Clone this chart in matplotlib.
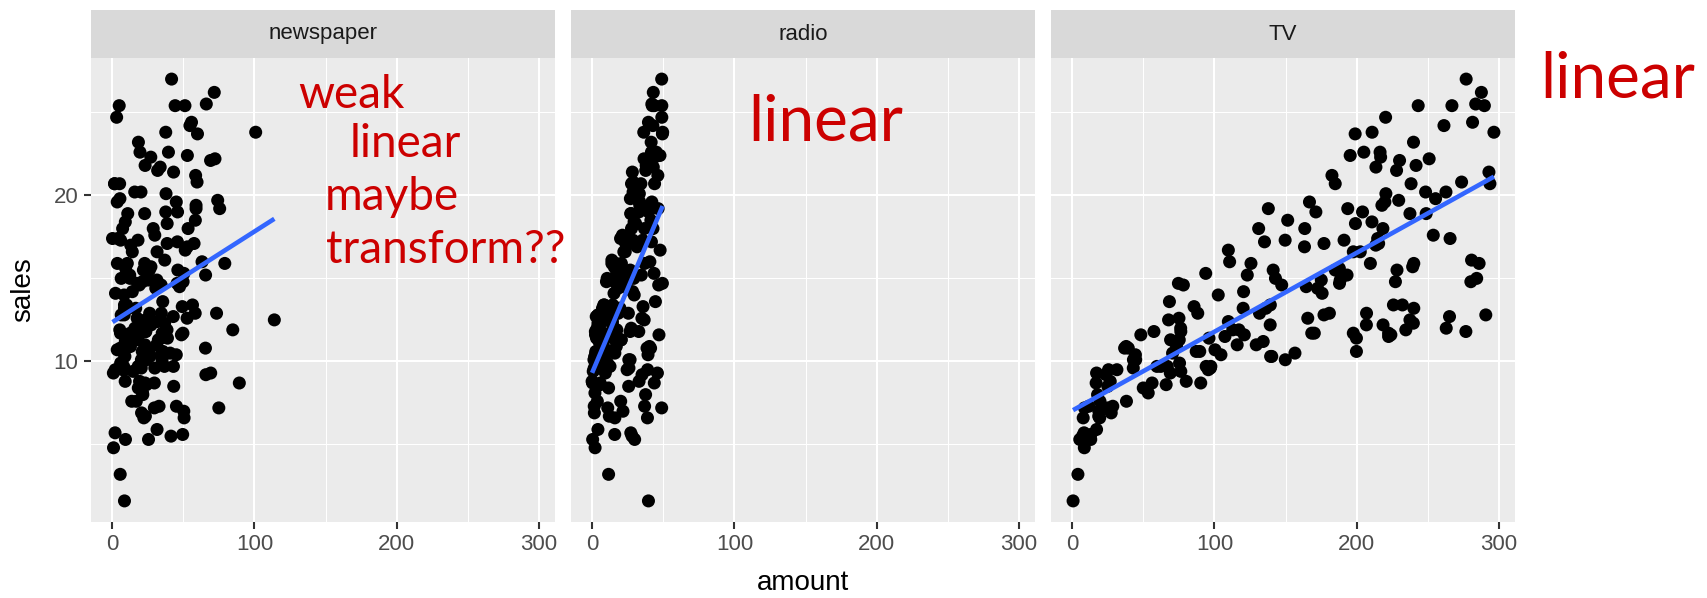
import numpy as np
import matplotlib
matplotlib.use("Agg")
import matplotlib.pyplot as plt

# Advertising data: TV, radio, newspaper budgets and sales
tv = [230.1, 44.5, 17.2, 151.5, 180.8, 8.7, 57.5, 120.2, 8.6, 199.8,
      66.1, 214.7, 23.8, 97.5, 204.1, 195.4, 67.8, 281.4, 69.2, 147.3,
      218.4, 237.4, 13.2, 228.3, 62.3, 262.9, 142.9, 240.1, 248.8, 70.6,
      292.9, 112.9, 97.2, 265.6, 95.7, 290.7, 266.9, 74.7, 43.1, 228.0,
      202.5, 177.0, 293.6, 206.9, 25.1, 175.1, 89.7, 239.9, 227.2, 66.9,
      199.8, 100.4, 216.4, 182.6, 262.7, 198.9, 7.3, 136.2, 210.8, 210.7,
      53.5, 261.3, 239.3, 102.7, 131.1, 69.0, 31.5, 139.3, 237.4, 216.8,
      199.1, 109.8, 26.8, 129.4, 213.4, 16.9, 27.5, 120.5, 5.4, 116.0,
      76.4, 239.8, 75.3, 68.4, 213.5, 193.2, 76.3, 110.7, 88.3, 109.8,
      134.3, 28.6, 217.7, 250.9, 107.4, 163.3, 197.6, 184.9, 289.7, 135.2,
      222.4, 296.4, 280.2, 187.9, 238.2, 137.9, 25.0, 90.4, 13.1, 255.4,
      225.8, 241.7, 175.7, 209.6, 78.2, 75.1, 139.2, 76.4, 125.7, 19.4,
      141.3, 18.8, 224.0, 123.1, 229.5, 87.2, 7.8, 80.2, 220.3, 59.6,
      0.7, 265.2, 8.4, 219.8, 36.9, 48.3, 25.6, 273.7, 43.0, 184.9,
      73.4, 193.7, 220.5, 104.6, 96.2, 140.3, 240.1, 243.2, 38.0, 44.7,
      280.7, 121.0, 197.6, 171.3, 187.8, 4.1, 93.9, 149.8, 11.7, 131.7,
      172.5, 85.7, 188.4, 163.5, 117.2, 234.5, 17.9, 206.8, 215.4, 284.3,
      50.0, 164.5, 19.6, 168.4, 222.4, 276.9, 248.4, 170.2, 276.7, 165.6,
      156.6, 218.5, 56.2, 287.6, 253.8, 205.0, 139.5, 191.1, 286.0, 18.7,
      39.5, 75.5, 17.2, 166.8, 149.7, 38.2, 94.2, 177.0, 283.6, 232.1]

radio = [37.8, 39.3, 45.9, 41.3, 10.8, 48.9, 32.8, 19.6, 2.1, 2.6,
         5.8, 24.0, 35.1, 7.6, 32.9, 47.7, 36.6, 39.6, 20.5, 23.9,
         27.7, 5.1, 15.9, 16.9, 12.6, 3.5, 29.3, 16.7, 27.1, 16.0,
         28.3, 17.4, 1.5, 20.0, 1.4, 4.1, 43.8, 49.4, 26.7, 37.7,
         22.3, 33.4, 27.7, 8.4, 25.7, 22.5, 9.9, 41.5, 15.8, 11.7,
         3.1, 9.6, 41.7, 46.2, 28.8, 49.4, 28.1, 19.2, 49.6, 29.5,
         2.0, 42.7, 15.5, 29.6, 42.8, 9.3, 24.6, 14.5, 27.5, 43.9,
         30.6, 14.3, 33.0, 5.7, 24.6, 43.7, 1.6, 28.5, 29.9, 7.7,
         26.7, 4.1, 20.3, 44.5, 43.0, 18.4, 27.5, 40.6, 25.5, 47.8,
         4.9, 1.5, 33.5, 36.5, 14.0, 31.6, 3.5, 21.0, 42.3, 41.7,
         4.3, 36.3, 10.1, 17.2, 34.3, 46.4, 11.0, 0.3, 0.4, 26.9,
         8.2, 38.0, 15.4, 20.6, 46.8, 35.0, 14.3, 0.8, 36.9, 16.0,
         26.8, 21.7, 2.4, 34.6, 32.3, 11.8, 38.9, 0.0, 49.0, 12.0,
         39.6, 2.9, 27.2, 33.5, 38.6, 47.0, 39.0, 28.9, 25.9, 43.9,
         17.0, 35.4, 33.2, 5.7, 14.8, 1.9, 7.3, 49.0, 40.3, 25.8,
         13.9, 8.4, 23.3, 39.7, 21.1, 11.6, 43.5, 1.3, 36.9, 18.4,
         18.1, 35.8, 18.1, 36.8, 14.7, 3.4, 37.6, 5.2, 23.6, 10.6,
         11.6, 20.9, 20.1, 7.1, 3.4, 48.9, 30.2, 7.8, 2.3, 10.0,
         2.6, 5.4, 5.7, 43.0, 21.3, 45.1, 2.1, 28.7, 13.9, 12.1,
         41.1, 10.8, 4.1, 42.0, 35.6, 3.7, 4.9, 9.3, 42.0, 8.6]

newspaper = [69.2, 45.1, 69.3, 58.5, 58.4, 75.0, 23.5, 11.6, 1.0, 21.2,
             24.2, 4.0, 65.9, 7.2, 46.0, 52.9, 114.0, 55.8, 18.3, 19.1,
             53.4, 23.5, 49.6, 26.2, 18.3, 19.5, 12.6, 22.9, 22.9, 40.8,
             43.2, 38.6, 30.0, 0.3, 7.4, 8.5, 5.0, 45.7, 35.1, 32.0,
             31.6, 38.7, 1.8, 26.4, 43.3, 31.5, 35.7, 18.5, 49.9, 36.8,
             34.6, 3.6, 39.6, 58.7, 15.9, 60.0, 41.4, 16.6, 37.7, 9.3,
             21.4, 54.7, 27.3, 8.4, 28.9, 0.9, 2.2, 10.2, 11.0, 27.2,
             38.7, 31.7, 19.3, 31.3, 13.1, 89.4, 20.7, 14.2, 9.4, 23.1,
             22.3, 36.9, 32.5, 35.6, 33.8, 65.7, 16.0, 63.2, 73.4, 51.4,
             9.3, 33.0, 59.0, 72.3, 10.9, 52.9, 5.9, 22.0, 51.2, 45.9,
             49.8, 100.9, 21.4, 17.9, 5.3, 59.0, 29.7, 23.2, 25.6, 5.5,
             56.5, 23.2, 2.4, 10.7, 34.5, 52.7, 25.6, 14.8, 79.2, 22.3,
             46.2, 50.4, 15.6, 12.4, 74.2, 25.9, 50.6, 9.2, 3.2, 43.1,
             8.7, 43.0, 2.1, 45.1, 65.6, 8.5, 9.3, 59.7, 20.5, 1.7,
             12.9, 75.6, 37.9, 34.4, 38.9, 9.0, 8.7, 44.3, 11.9, 20.6,
             37.0, 48.7, 14.2, 37.7, 9.5, 5.7, 50.5, 24.3, 45.2, 34.6,
             30.7, 49.3, 25.6, 7.4, 5.4, 84.8, 21.6, 19.4, 57.6, 6.4,
             18.4, 47.4, 17.0, 12.8, 13.1, 41.8, 20.3, 35.2, 23.7, 17.6,
             8.3, 27.4, 29.7, 71.8, 30.0, 19.6, 26.6, 18.2, 3.7, 23.4,
             5.8, 6.0, 31.6, 3.6, 6.0, 13.8, 8.1, 6.4, 66.2, 8.7]

sales = [22.1, 10.4, 9.3, 18.5, 12.9, 7.2, 11.8, 13.2, 4.8, 10.6,
         8.6, 17.4, 9.2, 9.7, 19.0, 22.4, 12.5, 24.4, 11.3, 14.6,
         18.0, 12.5, 5.6, 15.5, 9.7, 12.0, 15.0, 15.9, 18.9, 10.5,
         21.4, 11.9, 9.6, 17.4, 9.5, 12.8, 25.4, 14.7, 10.1, 21.5,
         16.6, 17.1, 20.7, 12.9, 8.5, 14.9, 10.6, 23.2, 14.8, 9.7,
         11.4, 10.7, 22.6, 21.2, 20.2, 23.7, 5.5, 13.2, 23.8, 18.4,
         8.1, 24.2, 15.7, 14.0, 18.0, 9.3, 9.5, 13.4, 18.9, 22.3,
         18.3, 12.4, 8.8, 11.0, 17.0, 8.7, 6.9, 14.2, 5.3, 11.0,
         11.8, 12.3, 11.3, 13.6, 21.7, 15.2, 12.0, 16.0, 12.9, 16.7,
         11.2, 7.3, 19.4, 22.2, 11.5, 16.9, 11.7, 15.5, 25.4, 17.2,
         11.7, 23.8, 14.8, 14.7, 20.7, 19.2, 7.2, 8.7, 5.3, 19.8,
         13.4, 21.8, 14.1, 15.9, 14.6, 12.6, 12.2, 9.4, 15.9, 6.6,
         15.5, 7.0, 11.6, 15.2, 19.7, 10.6, 6.6, 8.8, 24.7, 9.7,
         1.6, 12.7, 5.7, 19.6, 10.8, 11.6, 9.5, 20.8, 9.6, 20.7,
         10.9, 19.2, 20.1, 10.4, 11.4, 10.3, 13.2, 25.4, 10.9, 10.1,
         16.1, 11.6, 16.6, 19.0, 15.6, 3.2, 15.3, 10.1, 7.3, 12.9,
         14.4, 13.3, 14.9, 18.0, 11.9, 11.9, 8.0, 12.2, 17.1, 15.0,
         8.4, 14.5, 7.6, 11.7, 11.5, 27.0, 20.2, 11.7, 11.8, 12.6,
         10.5, 12.2, 8.7, 26.2, 17.6, 22.6, 10.3, 17.3, 15.9, 6.7,
         10.8, 9.9, 5.9, 19.6, 17.3, 7.6, 9.7, 12.8, 25.5, 13.4]

facets = ["newspaper", "radio", "TV"]
amounts = {"newspaper": newspaper, "radio": radio, "TV": tv}

x_ticks = [0, 100, 200, 300]
x_minor = [50, 150, 250]
y_ticks = [10, 20]
y_minor = [5, 15, 25]

# handwritten notes: (text, left px, baseline px, fontsize)
notes = [
    ("weak", 298, 108, 33),
    ("linear", 350, 157, 33),
    ("maybe", 325, 210, 33),
    ("transform??", 326, 263, 33),
    ("linear", 748, 140, 46),
    ("linear", 1540, 98, 46),
]

W, H = 1707, 598
plt.rcParams["font.family"] = ["Liberation Sans", "DejaVu Sans"]
fig = plt.figure(figsize=(W / 100, H / 100), dpi=100)

# shared scales with ggplot-style 5% expansion
all_x = np.concatenate([np.array(v) for v in amounts.values()])
y = np.array(sales)
xr = all_x.max() - all_x.min()
yr = y.max() - y.min()
xlim = (all_x.min() - 0.05 * xr, all_x.max() + 0.05 * xr)
ylim = (y.min() - 0.05 * yr, y.max() + 0.05 * yr)

lefts = [91, 571, 1051]
pw = 464
strip_top, panel_top, panel_bot = 10, 58, 522

for i, name in enumerate(facets):
    L = lefts[i]
    ax = fig.add_axes([L / W, 1 - panel_bot / H, pw / W, (panel_bot - panel_top) / H])
    ax.set_facecolor("#EBEBEB")
    for s in ax.spines.values():
        s.set_visible(False)
    ax.set_xlim(xlim)
    ax.set_ylim(ylim)
    ax.set_xticks(x_ticks)
    ax.set_xticks(x_minor, minor=True)
    ax.set_yticks(y_ticks)
    ax.set_yticks(y_minor, minor=True)
    ax.grid(which="major", color="white", lw=1.5)
    ax.grid(which="minor", color="white", lw=0.75)
    ax.set_axisbelow(True)
    ax.tick_params(which="major", length=5, width=1.5, color="#333333",
                   labelsize=16, labelcolor="#4D4D4D", pad=4)
    ax.tick_params(which="minor", length=0)
    if i > 0:
        ax.tick_params(axis="y", which="both", left=False, labelleft=False)

    x = np.array(amounts[name])
    ax.scatter(x, y, s=88, color="black", edgecolors="none", zorder=3)
    slope, icpt = np.polyfit(x, y, 1)
    xs = np.array([x.min(), x.max()])
    ax.plot(xs, icpt + slope * xs, color="#3366FF", lw=3.3, zorder=4,
            solid_capstyle="butt")

    sax = fig.add_axes([L / W, 1 - panel_top / H, pw / W, (panel_top - strip_top) / H])
    sax.set_facecolor("#D9D9D9")
    sax.set_xticks([])
    sax.set_yticks([])
    for s in sax.spines.values():
        s.set_visible(False)
    sax.text(0.5, 0.5, name, ha="center", va="center", fontsize=16,
             color="#1A1A1A", transform=sax.transAxes)

fig.text((lefts[1] + pw / 2) / W, 1 - 583 / H, "amount", ha="center",
         va="center", fontsize=20)
fig.text(23 / W, 1 - ((panel_top + panel_bot) / 2) / H, "sales", ha="center",
         va="center", rotation=90, fontsize=20)

for txt, px, py, fs in notes:
    fig.text(px / W, 1 - py / H, txt, ha="left", va="baseline", fontsize=fs,
             color="#CC0000", family=["Lato", "DejaVu Sans"], weight="normal")

fig.savefig("out.png", dpi=100)
